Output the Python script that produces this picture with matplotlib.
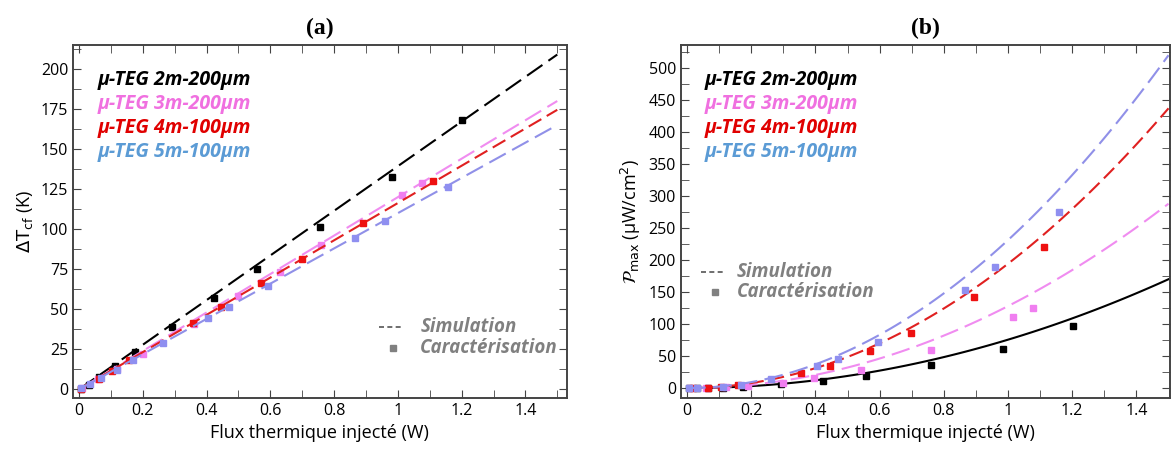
import numpy as np
import matplotlib.pyplot as plt
from matplotlib.ticker import MultipleLocator

# series names and colours
names = ["μ-TEG 2m-200μm", "μ-TEG 3m-200μm", "μ-TEG 4m-100μm", "μ-TEG 5m-100μm"]
text_colors = ["black", "#f070e0", "#e00000", "#5b9bd5"]
line_colors = ["black", "#f08cf0", "#e02020", "#9090e8"]
mark_colors = ["black", "#f07ef0", "#ee1111", "#8f8ff0"]
dashes = [(0, (9, 3.5)), (0, (9, 3.5)), (0, (7, 3)), (0, (9, 3.5))]

# simulation end points at 1.5 W
sim_x = [0.0, 1.5]
dT_sim_end = [209, 180, 174.5, 165]
P_sim_end = [170, 288, 437, 520]

# (a) Delta T measurements
dT_x = [
    [0.005, 0.03, 0.064, 0.113, 0.175, 0.29, 0.424, 0.557, 0.757, 0.982, 1.20],
    [0.01, 0.06, 0.12, 0.20, 0.36, 0.50, 0.63, 0.76, 1.013, 1.077],
    [0.005, 0.064, 0.102, 0.157, 0.358, 0.445, 0.57, 0.698, 0.891, 1.11],
    [0.006, 0.035, 0.069, 0.118, 0.17, 0.264, 0.403, 0.47, 0.593, 0.864, 0.96, 1.158],
]
dT_y = [
    [0.5, 3, 7.5, 14.6, 23.5, 39, 56.9, 75, 101.6, 132.5, 168],
    [1, 6.5, 13, 22, 41, 58, 73, 90, 121.4, 128.7],
    [0.5, 6.4, 11.4, 18.5, 41.2, 51.6, 66.2, 81.4, 104, 129.8],
    [0.6, 3.5, 6.9, 12, 18.3, 28.7, 44.4, 51.2, 64.6, 94.4, 104.8, 126.6],
]

# (b) Pmax measurements
P_x = [
    [0.005, 0.03, 0.064, 0.113, 0.173, 0.292, 0.425, 0.557, 0.759, 0.983, 1.203],
    [0.01, 0.06, 0.12, 0.19, 0.30, 0.395, 0.542, 0.76, 1.015, 1.079],
    [0.02, 0.065, 0.105, 0.158, 0.356, 0.446, 0.569, 0.699, 0.893, 1.113],
    [0.006, 0.03, 0.113, 0.168, 0.263, 0.404, 0.469, 0.594, 0.865, 0.96, 1.16],
]
P_y = [
    [0, 0.1, 0.3, 0.8, 1, 5.7, 11, 18.8, 36, 60.4, 97.4],
    [0, 0.3, 1, 3, 8, 15, 28, 59.4, 110.4, 124.5],
    [0, 0.3, 1, 4, 22.9, 34.9, 57.8, 86, 141.7, 219.8],
    [0, 0.2, 1.5, 5, 13.5, 34.4, 45.3, 71.4, 153, 189, 275.5],
]

plt.rcParams['font.family'] = ['Open Sans', 'DejaVu Sans']

fig = plt.figure(figsize=(11.76, 4.54), dpi=100)
axA = fig.add_axes([0.0621, 0.1233, 0.4199, 0.7777])
axB = fig.add_axes([0.579, 0.1233, 0.416, 0.7777])


def style_axes(ax, ymajor, yminor):
    ax.xaxis.set_major_locator(MultipleLocator(0.2))
    ax.xaxis.set_minor_locator(MultipleLocator(0.1))
    ax.yaxis.set_major_locator(MultipleLocator(ymajor))
    ax.yaxis.set_minor_locator(MultipleLocator(yminor))
    ax.tick_params(which='both', direction='in', top=True, right=True,
                   labelsize=11.5, color='#444444')
    ax.tick_params(which='major', length=6)
    ax.tick_params(which='minor', length=6)
    for s in ax.spines.values():
        s.set_linewidth(1.4)
        s.set_color('#444444')
    ax.set_xticks(np.arange(0, 1.41, 0.2))
    ax.set_xticklabels(["0", "0.2", "0.4", "0.6", "0.8", "1", "1.2", "1.4"])
    ax.set_xlabel("Flux thermique injecté (W)", fontsize=13)


def series_names(ax):
    for i, n in enumerate(names):
        ax.text(0.049, 0.901 - i * 0.068, n, transform=ax.transAxes, va='center',
                color=text_colors[i], fontsize=14, fontweight='bold', style='italic')


def sim_legend(ax, x0, x1, xs, xt, y1, y2):
    ax.plot([x0, x1], [y1, y1], ls=(0, (3, 2)), color='#555555', lw=1.2)
    ax.text(xt, y1, "Simulation", color='#808080', fontsize=13.5,
            fontweight='bold', style='italic', va='center')
    ax.plot([xs], [y2], 's', ms=4.5, color='#808080')
    ax.text(xt, y2, "Caractérisation", color='#808080', fontsize=13.5,
            fontweight='bold', style='italic', va='center')


# (a)
for i in range(4):
    sx = np.array(sim_x)
    axA.plot(sx, sx / 1.5 * dT_sim_end[i], ls=dashes[i], lw=1.5,
             color=line_colors[i])
    axA.plot(dT_x[i], dT_y[i], 's', ms=5, color=mark_colors[i], ls='none')
axA.set_xlim(-0.019, 1.53)
axA.set_ylim(-5.4, 215)
style_axes(axA, 25, 12.5)
axA.set_ylabel(r"$\Delta\mathrm{T}_{\mathrm{cf}}$ (K)", fontsize=13)
series_names(axA)
sim_legend(axA, 0.94, 1.02, 0.985, 1.07, 39, 26)
axA.set_title("(a)", fontsize=17, fontweight='bold', family='Liberation Serif', pad=8)

# (b)
for i in range(4):
    sx = np.linspace(0, 1.5, 100)
    ls = '-' if i == 0 else dashes[i]
    axB.plot(sx, (sx / 1.5) ** 2 * P_sim_end[i], ls=ls, lw=1.5,
             color=line_colors[i])
    axB.plot(P_x[i], P_y[i], 's', ms=5, color=mark_colors[i], ls='none')
axB.set_xlim(-0.019, 1.505)
axB.set_ylim(-15.6, 536)
style_axes(axB, 50, 25)
axB.set_ylabel(r"$\mathcal{P}_{\mathrm{max}}$ (μW/cm$^2$)", fontsize=13)
series_names(axB)
sim_legend(axB, 0.043, 0.12, 0.087, 0.156, 181, 150)
axB.set_title("(b)", fontsize=17, fontweight='bold', family='Liberation Serif', pad=8)

fig.savefig("out.png", dpi=100)
